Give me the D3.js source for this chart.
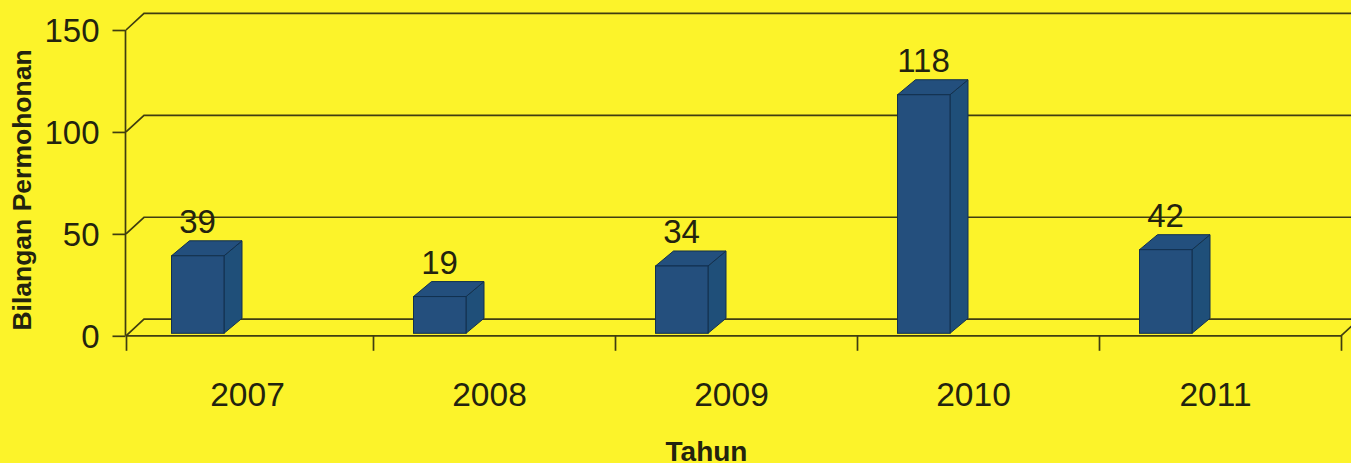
<!DOCTYPE html>
<html>
<head>
<meta charset="utf-8">
<script src="https://cdn.jsdelivr.net/npm/d3@7"></script>
<style>
  html, body { margin: 0; padding: 0; background: #fcf32a; overflow: hidden; }
  text { font-family: "Liberation Sans", Arial, sans-serif; fill: #23230f; }
  .axis path, .axis line, .wall { stroke: #3f3d10; stroke-width: 1.7; fill: none; }
</style>
</head>
<body>
<div id="chart"></div>
<script>
const years = ["2007", "2008", "2009", "2010", "2011"];
const requests = [39, 19, 34, 118, 42];
const yTicks = [0, 50, 100, 150];

const width = 1351;
const height = 463;
const depthX = 18;
const depthY = 16.6;
const barDepthY = 15;
const barWidth = 52.5;
const barLift = 0.5;

const svg = d3.select("#chart").append("svg")
  .attr("width", width)
  .attr("height", height)
  .style("display", "block");

const y = d3.scaleLinear().domain([0, 150]).range([335.8, 30]);
const x = d3.scalePoint().domain(years).range([247.5, 1215.5]);
const barBottom = y(0) - 2.5;

// back wall lines
svg.selectAll(".wall")
  .data(yTicks)
  .join("path")
  .attr("class", "wall")
  .attr("d", (d) => {
    const y0 = y(d);
    return `M126,${y0}L${126 + depthX},${y0 - depthY}L${width + 5},${y0 - depthY}`;
  });

// right edge of the floor
svg.append("path")
  .attr("class", "wall")
  .attr("d", `M1341,${y(0)}L${1341 + depthX},${y(0) - depthY}`);

// y axis
svg.append("g")
  .attr("class", "axis")
  .attr("transform", "translate(125.5,0)")
  .call(d3.axisLeft(y).tickValues(yTicks).tickSize(13).tickPadding(13).tickFormat(d3.format("d")))
  .call((g) => g.selectAll("text").style("font-size", "33px").attr("dy", "0.36em"))
  .call((g) => g.selectAll("path").attr("d", `M0,${y(150)}V${y(0)}`));

// x axis, ticks sit between the years
const xEdges = [126].concat(years.map((d) => x(d) + 125.5));
svg.append("g")
  .attr("class", "axis")
  .attr("transform", `translate(0,${y(0)})`)
  .call(d3.axisBottom(d3.scaleIdentity().domain([126, 1341])).tickValues(xEdges).tickSize(15).tickFormat(""))
  .call((g) => g.selectAll("path").attr("d", "M126,0H1341"));

svg.selectAll(".year")
  .data(years)
  .join("text")
  .attr("class", "year")
  .attr("x", (d) => x(d))
  .attr("y", 406)
  .attr("text-anchor", "middle")
  .style("font-size", "33.5px")
  .text((d) => d);

// bars
const bars = svg.selectAll(".bar")
  .data(years.map((year, i) => ({ year, value: requests[i] })))
  .join("g")
  .attr("class", "bar")
  .attr("transform", (d) => `translate(${x(d.year) - 76},0)`);

bars.append("path")
  .attr("fill", "#1f4f79")
  .attr("stroke", "#12304f")
  .attr("stroke-width", 1)
  .attr("d", (d) => {
    const top = y(d.value) - barLift;
    return `M${barWidth},${top}L${barWidth + depthX},${top - barDepthY}V${barBottom - barDepthY}L${barWidth},${barBottom}Z`;
  });

bars.append("path")
  .attr("fill", "#234f7d")
  .attr("stroke", "#12304f")
  .attr("stroke-width", 1)
  .attr("d", (d) => {
    const top = y(d.value) - barLift;
    return `M0,${top}L${depthX},${top - barDepthY}H${barWidth + depthX}L${barWidth},${top}Z`;
  });

bars.append("rect")
  .attr("fill", "#244f7d")
  .attr("stroke", "#12304f")
  .attr("stroke-width", 1)
  .attr("width", barWidth)
  .attr("y", (d) => y(d.value) - barLift)
  .attr("height", (d) => barBottom - y(d.value) + barLift);

bars.append("text")
  .attr("x", 26)
  .attr("y", (d) => y(d.value) - barLift - barDepthY - 8)
  .attr("text-anchor", "middle")
  .style("font-size", "33px")
  .text((d) => d.value);

// axis titles
svg.append("text")
  .attr("transform", "translate(31,190) rotate(-90)")
  .attr("text-anchor", "middle")
  .style("font-size", "26.5px")
  .style("font-weight", "bold")
  .text("Bilangan Permohonan");

svg.append("text")
  .attr("x", 706.5)
  .attr("y", 461)
  .attr("text-anchor", "middle")
  .style("font-size", "28px")
  .style("font-weight", "bold")
  .text("Tahun");
</script>
</body>
</html>
